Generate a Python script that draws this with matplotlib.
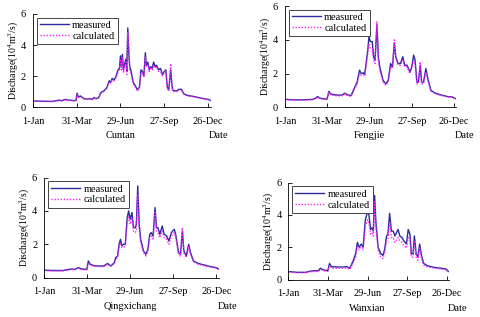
import numpy as np
import matplotlib
matplotlib.use('Agg')
import matplotlib.pyplot as plt

plt.rcParams['font.family'] = ['Liberation Serif', 'DejaVu Serif']
plt.rcParams['mathtext.fontset'] = 'custom'
plt.rcParams['mathtext.rm'] = 'Liberation Serif'
plt.rcParams['mathtext.it'] = 'Liberation Serif:italic'

tick_days = [1, 90, 180, 270, 360]
tick_labels = ['1-Jan', '31-Mar', '29-Jun', '27-Sep', '26-Dec']
stations = ['Cuntan', 'Fengjie', 'Qingxichang', 'Wanxian']

# Cuntan
d1 = [1, 20, 40, 55, 60, 67, 75, 85, 89, 91, 94, 98, 105, 112, 118, 122, 126, 130, 135, 140,
      146, 152, 157, 160, 163, 167, 171, 175, 178, 180, 182, 184, 186, 188, 191, 193, 195, 197, 199, 202,
      206, 210, 215, 219, 222, 225, 228, 231, 233, 236, 239, 242, 245, 248, 251, 254, 258, 262, 266, 270,
      273, 276, 279, 283, 285, 287, 290, 295, 300, 305, 310, 318, 328, 340, 350, 360, 365]
m1 = [0.40, 0.38, 0.37, 0.45, 0.42, 0.50, 0.45, 0.42, 0.45, 0.90, 0.65, 0.72, 0.55, 0.52, 0.55, 0.50, 0.62, 0.55, 0.60, 0.95,
      1.05, 1.25, 1.70, 1.60, 1.85, 1.75, 2.00, 2.40, 2.50, 3.30, 2.60, 3.40, 2.40, 2.70, 3.10, 2.30, 5.10, 3.50, 2.60, 2.30,
      1.60, 1.40, 1.10, 1.30, 2.40, 2.30, 2.00, 3.50, 2.70, 2.90, 2.40, 2.60, 2.50, 2.90, 2.60, 2.70, 2.40, 2.50, 2.10, 2.30,
      2.40, 1.30, 1.10, 2.40, 1.60, 1.10, 1.05, 1.05, 1.15, 1.15, 0.85, 0.75, 0.70, 0.62, 0.55, 0.50, 0.42]
c1 = [0.38, 0.36, 0.36, 0.42, 0.40, 0.47, 0.43, 0.40, 0.42, 0.80, 0.62, 0.68, 0.52, 0.50, 0.52, 0.48, 0.58, 0.52, 0.57, 0.90,
      1.00, 1.20, 1.60, 1.55, 1.75, 1.70, 1.90, 2.25, 2.40, 3.10, 2.40, 3.20, 2.20, 2.50, 2.90, 2.10, 4.80, 3.80, 2.40, 2.10,
      1.50, 1.30, 1.05, 1.25, 2.20, 2.20, 1.90, 3.20, 2.60, 2.70, 2.30, 2.50, 2.40, 2.70, 2.50, 2.60, 2.30, 2.30, 2.00, 2.20,
      2.30, 1.20, 1.05, 2.80, 1.50, 1.05, 1.00, 1.00, 1.10, 1.10, 0.80, 0.72, 0.67, 0.60, 0.53, 0.48, 0.40]

# Fengjie
d2 = [1, 20, 40, 60, 66, 70, 75, 85, 90, 94, 98, 106, 115, 124, 127, 134, 141, 149, 154, 159,
      163, 167, 170, 173, 177, 179, 182, 186, 189, 192, 196, 199, 202, 209, 215, 220, 225, 229, 233, 236,
      241, 246, 251, 255, 260, 266, 270, 274, 277, 281, 284, 288, 291, 295, 300, 305, 311, 320, 331, 345,
      356, 365]
m2 = [0.48, 0.45, 0.45, 0.48, 0.55, 0.65, 0.55, 0.50, 0.50, 0.95, 0.80, 0.75, 0.72, 0.75, 0.85, 0.75, 0.70, 1.20, 1.50, 2.20,
      2.00, 2.05, 1.95, 2.60, 3.50, 4.20, 3.90, 3.90, 3.00, 2.80, 4.90, 3.00, 2.40, 1.60, 1.40, 1.60, 2.60, 2.40, 3.80, 3.00,
      2.60, 2.60, 3.00, 2.50, 2.50, 2.10, 2.40, 3.10, 2.80, 1.50, 1.50, 2.50, 1.50, 1.50, 2.30, 1.60, 1.00, 0.85, 0.75, 0.65,
      0.62, 0.50]
c2 = [0.46, 0.43, 0.43, 0.46, 0.52, 0.60, 0.52, 0.48, 0.48, 0.90, 0.75, 0.70, 0.68, 0.70, 0.80, 0.70, 0.65, 1.10, 1.40, 2.00,
      1.90, 1.95, 1.85, 2.40, 3.30, 3.80, 3.50, 3.50, 2.80, 2.60, 5.10, 2.80, 2.20, 1.50, 1.30, 1.50, 2.40, 2.30, 4.00, 2.90,
      2.50, 2.50, 2.80, 2.40, 2.40, 2.00, 2.30, 2.80, 2.60, 1.40, 1.40, 2.70, 1.40, 1.40, 2.10, 1.50, 0.95, 0.80, 0.72, 0.62,
      0.60, 0.48]

# Qingxichang
d3 = [1, 20, 40, 57, 65, 72, 80, 90, 93, 97, 105, 115, 125, 133, 140, 147, 150, 154, 157, 160,
      163, 166, 170, 174, 177, 180, 184, 187, 191, 193, 196, 199, 202, 208, 213, 217, 221, 224, 228, 232,
      235, 238, 242, 247, 251, 256, 261, 266, 272, 275, 281, 285, 289, 292, 297, 302, 306, 312, 322, 336,
      350, 360, 365]
m3 = [0.45, 0.43, 0.43, 0.52, 0.50, 0.60, 0.52, 0.50, 1.00, 0.80, 0.72, 0.70, 0.70, 0.85, 0.70, 0.90, 1.20, 1.30, 2.00, 2.30,
      1.90, 2.00, 2.00, 3.60, 4.00, 3.50, 3.90, 3.00, 3.00, 3.20, 5.50, 3.20, 2.30, 1.60, 1.40, 1.70, 2.60, 2.70, 2.50, 4.20,
      3.00, 3.00, 2.60, 3.10, 2.60, 2.50, 2.20, 2.70, 2.90, 2.60, 1.50, 1.40, 2.80, 1.60, 1.30, 2.00, 1.50, 1.00, 0.85, 0.75,
      0.65, 0.60, 0.50]
c3 = [0.42, 0.40, 0.40, 0.48, 0.47, 0.55, 0.48, 0.47, 0.90, 0.75, 0.68, 0.66, 0.66, 0.80, 0.66, 0.85, 1.10, 1.20, 1.80, 2.10,
      1.80, 1.85, 1.85, 3.30, 3.70, 3.20, 3.60, 2.80, 2.70, 2.90, 5.00, 3.00, 2.10, 1.50, 1.30, 1.55, 2.40, 2.50, 2.30, 3.90,
      2.80, 2.70, 2.40, 2.80, 2.40, 2.30, 2.00, 2.50, 2.70, 2.40, 1.40, 1.30, 3.00, 1.50, 1.20, 1.85, 1.40, 0.95, 0.80, 0.70,
      0.62, 0.57, 0.48]

# Wanxian
d4 = [1, 20, 40, 50, 60, 69, 73, 80, 90, 94, 98, 110, 125, 133, 140, 148, 153, 157, 161, 166,
      170, 175, 180, 183, 187, 190, 193, 196, 199, 204, 210, 215, 219, 223, 226, 230, 234, 238, 242, 249,
      253, 258, 262, 268, 272, 276, 279, 283, 286, 290, 294, 298, 302, 307, 316, 332, 347, 358, 363]
m4 = [0.50, 0.45, 0.45, 0.52, 0.55, 0.55, 0.70, 0.60, 0.55, 1.00, 0.80, 0.78, 0.78, 0.80, 0.70, 1.20, 1.60, 2.30, 2.00, 2.20,
      2.00, 3.70, 4.20, 4.00, 3.10, 3.20, 3.00, 5.20, 3.50, 2.00, 1.60, 1.50, 1.90, 2.70, 2.80, 4.10, 3.00, 3.00, 2.70, 3.10,
      2.70, 2.60, 2.40, 2.20, 3.10, 2.80, 1.60, 1.60, 2.70, 1.60, 1.40, 2.20, 1.50, 1.00, 0.85, 0.75, 0.70, 0.65, 0.50]
c4 = [0.46, 0.42, 0.42, 0.48, 0.50, 0.50, 0.62, 0.55, 0.50, 0.90, 0.72, 0.70, 0.70, 0.72, 0.64, 1.05, 1.40, 2.10, 1.85, 2.00,
      1.85, 3.30, 3.70, 3.50, 2.80, 2.90, 2.70, 4.80, 3.20, 1.80, 1.40, 1.30, 1.70, 2.40, 2.50, 3.60, 2.60, 2.60, 2.30, 2.60,
      2.40, 2.30, 2.10, 1.95, 2.60, 2.50, 1.40, 1.40, 2.40, 1.40, 1.20, 1.95, 1.30, 0.90, 0.78, 0.70, 0.65, 0.60, 0.46]

days = [d1, d2, d3, d4]
measured = [m1, m2, m3, m4]
calculated = [c1, c2, c3, c4]

# axes boxes in figure fraction (left, bottom, width, height)
boxes = [(0.069, 0.662, 0.370, 0.294),
         (0.594, 0.661, 0.357, 0.320),
         (0.092, 0.124, 0.364, 0.316),
         (0.601, 0.118, 0.335, 0.306)]

fig = plt.figure(figsize=(4.8, 3.17), dpi=100)

for i in range(4):
    ax = fig.add_axes(boxes[i])
    ax.plot(days[i], measured[i], color='#2a2a9c', lw=1.0, label='measured')
    ax.plot(days[i], calculated[i], color='#ff22ff', lw=1.0, ls=(0, (1, 1.2)), label='calculated')
    ax.set_xlim(1, 365)
    ax.set_ylim(0, 6)
    ax.set_xticks(tick_days)
    ax.set_xticklabels(tick_labels)
    ax.set_yticks([0, 2, 4, 6])
    ax.tick_params(direction='in', length=3, width=0.6, labelsize=7.5)
    ax.tick_params(axis='x', pad=7)
    ax.tick_params(axis='y', pad=5)
    ax.spines['top'].set_visible(False)
    ax.spines['right'].set_visible(False)
    for s in ['left', 'bottom']:
        ax.spines[s].set_linewidth(0.6)
    ax.set_ylabel('Discharge(10$^4$m$^3$/s)', fontsize=7, labelpad=1)
    leg = ax.legend(loc='upper left', fontsize=7.5, frameon=True, fancybox=False,
                    edgecolor='#444444', framealpha=1, handlelength=2.8,
                    labelspacing=0.15, borderpad=0.3, borderaxespad=0.35, handletextpad=0.3)
    leg.get_frame().set_linewidth(0.7)
    ax.annotate(stations[i], xy=(180, 0), xycoords=('data', 'axes fraction'),
                xytext=(0, -20.5), textcoords='offset points', ha='center', va='center', fontsize=7.5)
    ax.annotate('Date', xy=(1, 0), xycoords='axes fraction',
                xytext=(6, -20.5), textcoords='offset points', ha='center', va='center', fontsize=7.5)

plt.savefig('out.png', dpi=100)
